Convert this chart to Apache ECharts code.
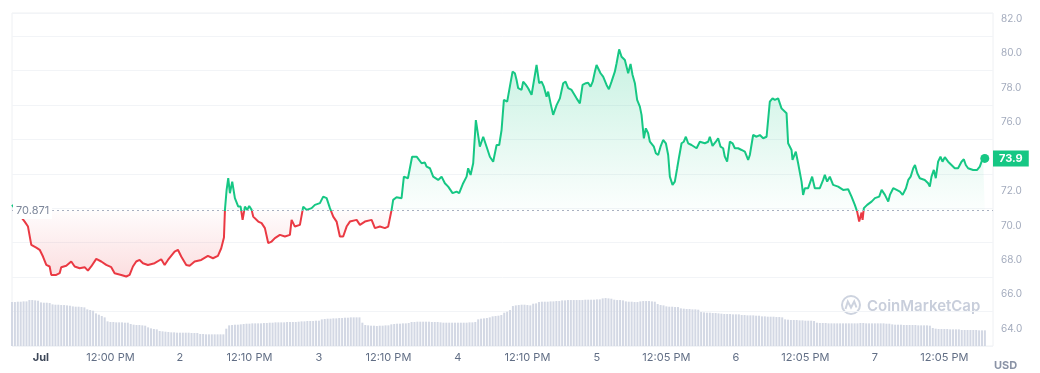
<!DOCTYPE html>
<html><head><meta charset="utf-8">
<script src="https://cdn.jsdelivr.net/npm/echarts@6/dist/echarts.min.js"></script>
<style>html,body{margin:0;padding:0;background:#fff}#c{width:1040px;height:373px}</style>
</head><body><div id="c"></div>
<script>
// hours since Jul 1 00:00
const hours = [-5.0,-2.81,-2.24,-1.67,-0.81,-0.22,0.35,0.92,1.50,1.78,2.64,3.23,3.50,4.37,5.23,5.82,6.68,7.54,8.11,8.68,9.55,10.41,11.27,12.14,12.72,13.86,14.73,15.31,15.88,16.45,17.04,17.61,18.47,19.63,20.77,21.36,21.93,23.08,23.65,24.22,25.09,25.67,26.54,27.68,28.83,29.70,30.56,31.13,31.60,31.77,32.06,32.34,32.63,33.03,33.49,34.07,34.48,34.82,35.22,35.62,35.96,36.38,36.65,37.52,38.10,38.67,39.24,39.83,40.40,41.26,42.13,42.99,43.28,43.85,44.72,45.29,45.87,46.74,47.31,48.17,48.74,49.33,49.90,50.47,51.05,51.62,52.19,52.78,53.35,54.51,55.08,55.94,57.10,57.67,58.53,59.39,59.96,60.55,60.82,61.41,62.27,62.67,63.37,64.09,64.87,65.15,65.73,66.30,66.59,67.16,67.73,68.59,69.18,69.75,70.32,71.08,71.77,72.22,72.91,73.50,73.77,74.19,74.64,75.10,75.79,76.37,76.95,77.52,78.09,78.68,79.13,79.54,79.94,80.51,80.97,81.44,81.84,82.13,82.41,82.99,83.27,83.74,84.13,84.72,85.00,85.58,86.03,86.45,86.84,87.31,87.59,88.00,88.45,89.04,89.61,90.18,90.59,91.04,91.63,92.49,93.06,93.53,94.10,94.49,94.91,95.28,95.65,95.94,96.22,96.63,97.08,97.67,98.07,98.53,99.10,99.40,99.84,100.26,100.83,101.40,101.81,102.16,102.56,102.95,103.42,103.71,104.11,104.45,104.85,105.15,105.44,105.84,106.18,106.58,106.99,107.44,107.91,108.31,108.60,109.06,109.46,109.86,110.20,110.62,111.01,111.36,111.76,112.34,113.21,113.78,114.64,115.21,115.50,115.97,116.54,116.94,117.35,117.80,118.09,118.49,118.96,119.42,119.82,120.39,120.98,121.55,122.12,122.41,122.98,123.57,124.14,124.71,125.30,125.86,126.33,126.73,127.30,127.88,128.16,128.75,129.02,129.61,129.78,130.35,130.75,131.34,131.61,131.91,132.48,133.17,133.63,134.50,135.07,135.36,135.76,136.22,136.79,137.66,138.52,139.39,139.97,140.54,140.94,141.29,141.70,141.88,142.10,142.67,143.43,144.01,144.75,145.17,145.74,146.31,146.60,147.17,147.76,148.33,148.80,149.37,149.77,150.18,150.63,150.93,151.33,151.76,152.62,153.20,153.49,153.78,154.18,154.52,154.92,155.33,155.68,156.08,156.65,157.23,157.80,158.37,158.96,159.36,159.70,160.10,160.97,161.66,162.12,162.69,162.98];
const prices = [71.2,70.23,69.94,68.88,68.72,68.59,68.2,67.71,67.62,67.13,67.13,67.23,67.58,67.66,67.91,67.62,67.52,67.58,67.38,67.62,68.06,67.91,67.71,67.58,67.23,67.13,67.04,67.13,67.62,67.91,68.0,67.81,67.71,67.81,68.04,67.71,68.0,68.49,68.59,68.2,67.71,67.66,67.91,68.0,68.24,68.1,68.24,68.68,69.3,70.91,72.07,72.75,71.88,72.55,71.59,71.1,71.1,70.33,71.1,70.91,71.14,70.91,70.52,70.23,70.14,69.85,68.98,69.07,69.27,69.46,69.36,69.46,70.33,69.94,70.04,71.1,70.91,71.01,71.2,71.3,71.68,71.59,71.01,70.52,70.23,69.36,69.36,69.94,70.23,70.33,70.04,70.23,70.33,69.85,69.94,69.85,69.94,70.91,71.49,71.64,71.59,72.84,72.75,74.0,74.0,74.1,73.62,73.66,73.42,73.33,72.84,72.65,72.84,72.46,72.26,71.88,71.97,71.88,72.46,72.84,73.33,72.94,73.62,76.13,74.58,75.16,74.58,74.0,73.71,74.68,74.68,75.55,77.3,77.2,78.07,78.94,78.85,78.46,77.98,77.88,78.36,78.17,77.98,77.59,77.69,79.33,78.27,78.36,78.07,77.49,77.78,77.1,76.43,77.0,77.39,78.27,78.36,77.98,77.88,77.39,77.1,78.17,78.27,78.3,78.07,78.36,78.94,79.33,79.43,78.85,78.65,78.17,77.92,78.36,78.94,79.43,80.24,79.81,79.62,78.85,79.39,78.75,78.27,77.3,76.91,76.43,75.07,75.65,75.36,74.87,74.97,74.58,74.2,74.1,74.58,74.97,74.78,74.1,72.84,72.36,72.55,73.33,74.0,74.78,74.87,75.16,74.78,74.68,74.49,74.87,74.78,74.87,75.16,74.63,74.87,75.07,74.58,74.49,74.0,73.71,74.87,74.78,74.49,74.49,74.39,74.29,73.81,74.1,75.26,75.16,75.26,75.07,75.16,77.2,77.39,77.3,77.39,76.81,76.72,76.52,74.78,74.39,73.81,74.29,73.62,72.55,71.78,72.17,72.17,72.84,72.17,72.17,72.65,72.94,72.55,72.84,72.36,72.26,72.07,72.11,71.68,71.2,70.81,70.23,70.75,70.33,71.01,71.2,71.39,71.59,71.68,72.07,71.78,71.39,71.78,72.17,72.07,71.97,71.78,72.17,72.65,72.84,73.33,73.52,73.04,72.75,72.65,72.46,72.26,72.84,73.23,72.75,73.71,74.0,73.71,73.97,73.71,73.52,73.33,73.33,73.71,73.85,73.52,73.33,73.23,73.23,73.42,73.97,73.9];
// half-hourly volume (arbitrary units), first bar at volStartHour
const volStartHour = -5, volStepHour = 0.5;
const volumes = [132,132,133,133,134,134, 138,138,137,136, 131,130,130,129, 125,124,124,123,123,122,121, 119,118,118,117,116, 110,108,106, 98,94,90,86, 74,72,72,71,71,71,70,70, 66,64,63,63,62,61, 56,53,51,50, 45,44,43,42, 41,41,40,40,40,40,40,39,39,39, 36,36,35,35,35,35,35,35,35, 52, 62,63,64,64,65,66, 67,67,68,68,68,68,69,69, 70,70,71,71,71,71,72,72,72,72,73, 74,74,75,75,75,76,76, 80,81,82,82,83,83,84,84,85,85,86,86,86,86, 70, 63,62,61,61,60,61,61,62,62, 65,66,67,67,68,68,69, 72,72,73,73,73,73,73,72,72,72, 71,70,70,70,70,70,70,70,70,70,71,71,72, 80,82,83,84,86, 89,90,91,93, 100,103,108, 120,122,123,124,124,123,122, 127,128, 132,133,133,133,134,134,135,135, 137,137,138,138,138,138,138,138,139,139,139,139,140,140, 143,144,143,142, 139,138,138,137, 134,133,133,132,132, 134,135,135,135,134,133, 126,123,122, 119,118,118,117,117, 113,112,111,111,110,110,109, 102,101,100,100,99,99,98, 97,96,96,96,95,95,95, 93,93,92,92,92,91,91, 89,89,88,88,88,87,87,86, 80,79,78,78,78,77, 77,76,76,76,75, 70,69,69,69,68,68,68,68,68,68,68,68,68,68,68,69,69,68,68,68,68,68,68,68,67,67, 65,64,64,64,63,63,63,63,63,62,62,62,62,61, 54,52,51,51,51,51,50,50,50,50, 48,48,48,48,48,48,47,47,47];
const xTickHours = [0,12,24,36,48,60,72,84,96,108,120,132,144,156];
const xTickLabels = ['Jul','12:00 PM','2','12:10 PM','3','12:10 PM','4','12:10 PM','5','12:05 PM','6','12:05 PM','7','12:05 PM'];
const yTickValues = [64,66,68,70,72,74,76,78,80,82];
const baseline = 70.871;
const lastPriceLabel = '73.9';

const Y_MIN = 63, Y_MAX = 82.35;
const GREEN = '#16c784', RED = '#ea3943';
const priceData = hours.map((h, i) => [h, prices[i]]);
const volData = volumes.map((v, i) => [volStartHour + i * volStepHour, v]);
const pMax = Math.max(...prices), pMin = Math.min(...prices);
const off = (pMax - baseline) / (pMax - pMin);
const last = priceData[priceData.length - 1];

const chart = echarts.init(document.getElementById('c'), null, {renderer: 'canvas'});
chart.setOption({
  animation: false,
  backgroundColor: '#fff',
  grid: {left: 12, right: 47, top: 13, bottom: 27, show: true, borderColor: '#eef0f3', borderWidth: 1},
  xAxis: [{
    type: 'value', min: -5, max: 164.4,
    axisLine: {show: false}, axisTick: {show: false}, splitLine: {show: false},
    axisLabel: {
      customValues: xTickHours, margin: 6, color: '#616e85', fontSize: 11, fontFamily: 'Inter',
      formatter: v => { const i = xTickHours.indexOf(v); const s = i >= 0 ? xTickLabels[i] : ''; return i === 0 ? '{b|' + s + '}' : s; },
      rich: {b: {fontWeight: 'bold', color: '#3e4859', fontSize: 11, fontFamily: 'Inter'}}
    }
  }],
  yAxis: [{
    type: 'value', position: 'right', min: Y_MIN, max: Y_MAX, interval: 2,
    axisLine: {show: false}, axisTick: {show: false},
    splitLine: {show: true, lineStyle: {color: '#f2f4f7', width: 1}},
    axisLabel: {customValues: yTickValues, margin: 8, color: '#a3abbd', fontSize: 10, fontFamily: 'Inter', formatter: v => v.toFixed(1)}
  }, {
    type: 'value', min: 0, max: 1000, show: false, splitLine: {show: false}
  }],
  visualMap: {
    type: 'piecewise', show: false, seriesIndex: 0, dimension: 1,
    pieces: [{gte: Y_MIN, lt: baseline, color: RED}, {gte: baseline, lte: Y_MAX, color: GREEN}]
  },
  series: [{
    type: 'line', data: priceData, showSymbol: false, symbol: 'none', z: 3,
    lineStyle: {width: 2},
    areaStyle: {
      origin: baseline,
      color: new echarts.graphic.LinearGradient(0, 0, 0, 1, [
        {offset: 0, color: 'rgba(22,199,132,0.34)'},
        {offset: off, color: 'rgba(22,199,132,0.02)'},
        {offset: off, color: 'rgba(234,57,67,0.02)'},
        {offset: 1, color: 'rgba(234,57,67,0.24)'}
      ])
    },
    markLine: {
      silent: true, symbol: 'none', animation: false,
      data: [
        {yAxis: baseline, lineStyle: {color: '#a9b0c0', type: [2, 3], width: 1},
         label: {show: true, position: 'insideStart', distance: 1, formatter: '70.871', color: '#7d879a', fontSize: 11, fontFamily: 'Inter', backgroundColor: '#fff', padding: [3, 3]}},
        {yAxis: last[1], lineStyle: {color: 'rgba(0,0,0,0)', width: 1},
         label: {show: true, position: 'end', distance: 0, formatter: lastPriceLabel, color: '#fff', fontSize: 11, fontWeight: 'bold', fontFamily: 'Inter', backgroundColor: GREEN, padding: [3, 6, 2, 6]}}
      ]
    },
    markPoint: {
      silent: true, animation: false,
      data: [{coord: last, symbol: 'circle', symbolSize: 9, itemStyle: {color: GREEN}, label: {show: false}}]
    }
  }, {
    type: 'bar', data: volData, yAxisIndex: 1, barWidth: 2, z: 1,
    itemStyle: {color: '#d3d8e4'}, silent: true
  }],
  graphic: [
    {type: 'circle', shape: {cx: 851, cy: 305, r: 9}, style: {fill: 'none', stroke: '#cdd3df', lineWidth: 2}, silent: true},
    {type: 'polyline', shape: {points: [[845.5, 309], [847.8, 301.5], [851, 307.5], [854.2, 301.5], [856.5, 307.5]]}, style: {fill: 'none', stroke: '#cdd3df', lineWidth: 2}, silent: true},
    {type: 'text', x: 867, y: 306, style: {text: 'CoinMarketCap', fill: '#c8cedb', font: '600 15px Inter', verticalAlign: 'middle'}, silent: true},
    {type: 'text', x: 994, y: 366, style: {text: 'USD', fill: '#8a93a6', font: 'bold 11px Inter', verticalAlign: 'middle'}, silent: true}
  ]
});
</script></body></html>
